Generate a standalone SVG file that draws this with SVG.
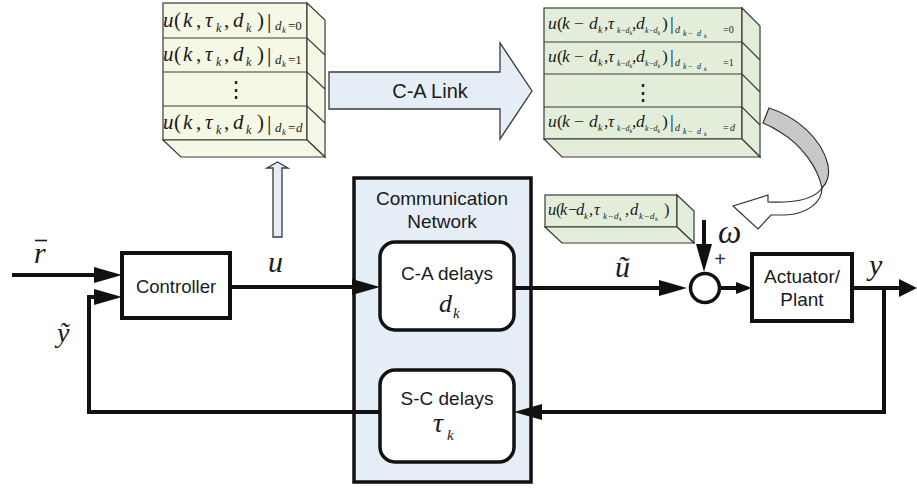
<svg xmlns="http://www.w3.org/2000/svg" width="917" height="489" viewBox="0 0 917 489">
  <style>
    .sans { font-family: "Liberation Sans", Arial, sans-serif; fill: #1a1a1a; }
    .mi { font-family: "Liberation Serif", "Times New Roman", serif; font-style: italic; fill: #1a1a1a; }
    .n { font-style: normal; }
    .box { fill: #ffffff; stroke: #111; stroke-width: 4; }
    .rbox { fill: #ffffff; stroke: #111; stroke-width: 3.5; }
    .wire { fill: none; stroke: #111; stroke-width: 4; }
    .stackA { fill: #f6f8e6; stroke: #3a3a3a; stroke-width: 1.2; }
    .stackB { fill: #e2eed9; stroke: #3a3a3a; stroke-width: 1.2; }
    .edge { fill: none; stroke: #3a3a3a; stroke-width: 1.2; }
    .big { fill: #e5edf7; stroke: #3a3a3a; stroke-width: 1.3; }
  </style>
  <defs>
    <marker id="ah" markerUnits="userSpaceOnUse" markerWidth="28" markerHeight="18" viewBox="0 0 28 18" refX="14" refY="9" orient="auto">
      <path d="M0,1 L28,9 L0,17 Z" fill="#111"/>
    </marker>
    <marker id="ahs" markerUnits="userSpaceOnUse" markerWidth="16" markerHeight="12" viewBox="0 0 16 12" refX="8" refY="6" orient="auto">
      <path d="M0,0 L16,6 L0,12 Z" fill="#111"/>
    </marker>
    <marker id="aho" markerUnits="userSpaceOnUse" markerWidth="18" markerHeight="18" viewBox="0 0 18 18" refX="9" refY="9" orient="auto">
      <path d="M0,0 L18,9 L0,18 Z" fill="#111"/>
    </marker>
  </defs>

  <rect width="917" height="489" fill="#ffffff"/>

  <!-- communication network container -->
  <g id="network">
    <rect x="354" y="178" width="177" height="304" fill="#e5edf7" stroke="#111" stroke-width="3.5"/>
    <text class="sans" x="442" y="205" font-size="19" text-anchor="middle">Communication</text>
    <text class="sans" x="442" y="228" font-size="19" text-anchor="middle">Network</text>
  </g>

  <!-- signal wires -->
  <g id="connectors">
    <line class="wire" x1="12" y1="275" x2="108" y2="275" marker-end="url(#ah)"/>
    <polyline class="wire" points="380,412 89,412 89,297 108,297" marker-end="url(#ah)"/>
    <line class="wire" x1="230" y1="287" x2="366" y2="287" marker-end="url(#ah)"/>
    <line class="wire" x1="514" y1="288" x2="673" y2="288" marker-end="url(#ah)"/>
    <line class="wire" x1="704" y1="220" x2="704" y2="258" marker-end="url(#ah)"/>
    <line class="wire" x1="720" y1="288" x2="744" y2="288" marker-end="url(#ahs)"/>
    <line class="wire" x1="852" y1="288" x2="908" y2="288" marker-end="url(#aho)"/>
    <polyline class="wire" points="884,288 884,412 528,412" marker-end="url(#ah)"/>
  </g>

  <!-- signal labels -->
  <g id="labels">
    <text class="mi" x="34" y="263" font-size="30">r</text>
    <line x1="35" y1="240.5" x2="47" y2="240.5" stroke="#1a1a1a" stroke-width="1.6"/>
    <text class="mi" x="268" y="272" font-size="30">u</text>
    <text class="mi" x="57" y="342" font-size="28">ỹ</text>
    <text class="mi" x="615" y="277" font-size="30">ũ</text>
    <text class="mi" x="869" y="275" font-size="30">y</text>
    <text class="mi" x="718" y="243" font-size="33">ω</text>
    <text x="720" y="266" font-size="20" text-anchor="middle" font-family="Liberation Sans, sans-serif" fill="#333">+</text>
  </g>

  <g id="controller">
    <rect class="box" x="122" y="253" width="108" height="65"/>
    <text class="sans" x="176" y="293" font-size="18.5" text-anchor="middle">Controller</text>
  </g>

  <g id="ca-delays">
    <rect class="rbox" x="380" y="242" width="134" height="88" rx="15"/>
    <text class="sans" x="447" y="280" font-size="19" text-anchor="middle">C-A delays</text>
    <text class="mi" font-size="26"><tspan x="439" y="312">d</tspan><tspan x="453" y="318" font-size="15">k</tspan></text>
  </g>

  <g id="sc-delays">
    <rect class="rbox" x="380" y="370" width="134" height="92" rx="15"/>
    <text class="sans" x="447" y="405" font-size="19" text-anchor="middle">S-C delays</text>
    <text class="mi" font-size="28"><tspan x="433" y="432">τ</tspan><tspan x="447" y="440" font-size="15">k</tspan></text>
  </g>

  <g id="sum">
    <circle cx="705" cy="288" r="14.5" fill="#ffffff" stroke="#111" stroke-width="3.5"/>
  </g>

  <g id="plant">
    <rect class="box" x="752" y="254" width="100" height="67"/>
    <text class="sans" x="802" y="283" font-size="19" text-anchor="middle">Actuator/</text>
    <text class="sans" x="802" y="306" font-size="19" text-anchor="middle">Plant</text>
  </g>

  <!-- controller-side buffer of candidate control inputs -->
  <g id="controller-buffer">
    <rect class="stackA" x="163" y="3" width="144" height="137"/>
    <polygon class="stackA" points="307,3 325,20 325,157 307,140"/>
    <polygon class="stackA" points="163,140 307,140 325,157 181,157"/>
    <path class="edge" d="M163,38 H307 L325,55 M163,72 H307 L325,89 M163,106 H307 L325,123"/>
    <g transform="translate(0,27)">
      <text class="mi" font-size="21"><tspan x="163" y="0">u</tspan><tspan class="n" x="174" y="0">(</tspan><tspan x="183" y="0">k</tspan><tspan class="n" x="196" y="0">,</tspan><tspan x="205" y="0">τ</tspan><tspan x="216" y="5" font-size="12">k</tspan><tspan class="n" x="224" y="0">,</tspan><tspan x="233" y="0">d</tspan><tspan x="246" y="5" font-size="12">k</tspan><tspan class="n" x="257" y="0">)</tspan><tspan class="n" x="267" y="1" font-size="22">|</tspan><tspan x="275" y="3" font-size="13">d</tspan><tspan x="282" y="6" font-size="9">k</tspan><tspan class="n" x="288" y="3" font-size="13">=0</tspan></text>
    </g>
    <g transform="translate(0,61)">
      <text class="mi" font-size="21"><tspan x="163" y="0">u</tspan><tspan class="n" x="174" y="0">(</tspan><tspan x="183" y="0">k</tspan><tspan class="n" x="196" y="0">,</tspan><tspan x="205" y="0">τ</tspan><tspan x="216" y="5" font-size="12">k</tspan><tspan class="n" x="224" y="0">,</tspan><tspan x="233" y="0">d</tspan><tspan x="246" y="5" font-size="12">k</tspan><tspan class="n" x="257" y="0">)</tspan><tspan class="n" x="267" y="1" font-size="22">|</tspan><tspan x="275" y="3" font-size="13">d</tspan><tspan x="282" y="6" font-size="9">k</tspan><tspan class="n" x="288" y="3" font-size="13">=1</tspan></text>
    </g>
    <text x="236" y="97" font-size="22" text-anchor="middle" font-family="DejaVu Serif, serif" fill="#1a1a1a">⋮</text>
    <g transform="translate(0,129)">
      <text class="mi" font-size="21"><tspan x="163" y="0">u</tspan><tspan class="n" x="174" y="0">(</tspan><tspan x="183" y="0">k</tspan><tspan class="n" x="196" y="0">,</tspan><tspan x="205" y="0">τ</tspan><tspan x="216" y="5" font-size="12">k</tspan><tspan class="n" x="224" y="0">,</tspan><tspan x="233" y="0">d</tspan><tspan x="246" y="5" font-size="12">k</tspan><tspan class="n" x="257" y="0">)</tspan><tspan class="n" x="267" y="1" font-size="22">|</tspan><tspan x="275" y="3" font-size="13">d</tspan><tspan x="282" y="6" font-size="9">k</tspan><tspan class="n" x="288" y="3" font-size="13">=</tspan><tspan x="296" y="3" font-size="13">d</tspan></text>
    </g>
  </g>

  <!-- upward transfer of the computed inputs -->
  <g id="buffer-feed">
    <polygon class="big" points="273,237 282,237 282,168 288,168 277.5,162 267,168 273,168"/>
  </g>

  <!-- controller-to-actuator link -->
  <g id="ca-link">
    <polygon class="big" points="329,72 500,72 500,43 532,91 500,139 500,109 329,109"/>
    <text class="sans" x="430" y="98" font-size="20" text-anchor="middle">C-A Link</text>
  </g>

  <!-- actuator-side buffer of received inputs -->
  <g id="actuator-buffer">
    <rect class="stackB" x="544" y="8" width="198" height="131"/>
    <polygon class="stackB" points="742,8 760,26 760,157 742,139"/>
    <polygon class="stackB" points="544,139 742,139 760,157 562,157"/>
    <path class="edge" d="M544,42 H742 L760,60 M544,74 H742 L760,92 M544,107 H742 L760,125"/>
    <g transform="translate(0,29)">
      <text class="mi" font-size="17.5"><tspan x="548" y="0">u</tspan><tspan class="n" x="557" y="0">(</tspan><tspan x="562" y="0">k</tspan><tspan class="n" x="574" y="0">−</tspan><tspan x="589" y="0">d</tspan><tspan x="598" y="4" font-size="10">k</tspan><tspan class="n" x="604" y="0">,</tspan><tspan x="608" y="0">τ</tspan><tspan x="617" y="4" font-size="8">k</tspan><tspan class="n" x="621" y="4" font-size="8">−</tspan><tspan x="625.5" y="4" font-size="8">d</tspan><tspan x="629.5" y="6" font-size="6">k</tspan><tspan class="n" x="632" y="0">,</tspan><tspan x="636" y="0">d</tspan><tspan x="645" y="4" font-size="8">k</tspan><tspan class="n" x="649" y="4" font-size="8">−</tspan><tspan x="653.5" y="4" font-size="8">d</tspan><tspan x="657.5" y="6" font-size="6">k</tspan><tspan class="n" x="662" y="0">)</tspan><tspan class="n" x="670" y="1" font-size="19">|</tspan><tspan x="675" y="4" font-size="10">d</tspan><tspan x="683" y="7" font-size="8">k</tspan><tspan class="n" x="688" y="7" font-size="8">−</tspan><tspan x="697" y="7" font-size="8">d</tspan><tspan x="704" y="9" font-size="6">k</tspan><tspan class="n" x="723" y="4" font-size="10">=0</tspan></text>
    </g>
    <g transform="translate(0,62)">
      <text class="mi" font-size="17.5"><tspan x="548" y="0">u</tspan><tspan class="n" x="557" y="0">(</tspan><tspan x="562" y="0">k</tspan><tspan class="n" x="574" y="0">−</tspan><tspan x="589" y="0">d</tspan><tspan x="598" y="4" font-size="10">k</tspan><tspan class="n" x="604" y="0">,</tspan><tspan x="608" y="0">τ</tspan><tspan x="617" y="4" font-size="8">k</tspan><tspan class="n" x="621" y="4" font-size="8">−</tspan><tspan x="625.5" y="4" font-size="8">d</tspan><tspan x="629.5" y="6" font-size="6">k</tspan><tspan class="n" x="632" y="0">,</tspan><tspan x="636" y="0">d</tspan><tspan x="645" y="4" font-size="8">k</tspan><tspan class="n" x="649" y="4" font-size="8">−</tspan><tspan x="653.5" y="4" font-size="8">d</tspan><tspan x="657.5" y="6" font-size="6">k</tspan><tspan class="n" x="662" y="0">)</tspan><tspan class="n" x="670" y="1" font-size="19">|</tspan><tspan x="675" y="4" font-size="10">d</tspan><tspan x="683" y="7" font-size="8">k</tspan><tspan class="n" x="688" y="7" font-size="8">−</tspan><tspan x="697" y="7" font-size="8">d</tspan><tspan x="704" y="9" font-size="6">k</tspan><tspan class="n" x="723" y="4" font-size="10">=1</tspan></text>
    </g>
    <text x="643" y="100" font-size="22" text-anchor="middle" font-family="DejaVu Serif, serif" fill="#1a1a1a">⋮</text>
    <g transform="translate(0,127)">
      <text class="mi" font-size="17.5"><tspan x="548" y="0">u</tspan><tspan class="n" x="557" y="0">(</tspan><tspan x="562" y="0">k</tspan><tspan class="n" x="574" y="0">−</tspan><tspan x="589" y="0">d</tspan><tspan x="598" y="4" font-size="10">k</tspan><tspan class="n" x="604" y="0">,</tspan><tspan x="608" y="0">τ</tspan><tspan x="617" y="4" font-size="8">k</tspan><tspan class="n" x="621" y="4" font-size="8">−</tspan><tspan x="625.5" y="4" font-size="8">d</tspan><tspan x="629.5" y="6" font-size="6">k</tspan><tspan class="n" x="632" y="0">,</tspan><tspan x="636" y="0">d</tspan><tspan x="645" y="4" font-size="8">k</tspan><tspan class="n" x="649" y="4" font-size="8">−</tspan><tspan x="653.5" y="4" font-size="8">d</tspan><tspan x="657.5" y="6" font-size="6">k</tspan><tspan class="n" x="662" y="0">)</tspan><tspan class="n" x="670" y="1" font-size="19">|</tspan><tspan x="675" y="4" font-size="10">d</tspan><tspan x="683" y="7" font-size="8">k</tspan><tspan class="n" x="688" y="7" font-size="8">−</tspan><tspan x="697" y="7" font-size="8">d</tspan><tspan x="704" y="9" font-size="6">k</tspan><tspan class="n" x="723" y="4" font-size="10">=</tspan><tspan x="730" y="4" font-size="10">d</tspan></text>
    </g>
  </g>

  <!-- curved arrow selecting the applied input -->
  <g id="select-arrow">
    <path d="M769,108 C795,116 822,138 828,165 C830,176 827,183 822,188 C818,168 802,145 780,132 C774,128 768,125 763,123 Z" fill="#c8c8c8" stroke="#333" stroke-width="1.2"/>
    <path d="M822,188 C822,202 808,214 785,215 L771,215 L758,229 L733,206 L768,195 L768,202 C792,203 814,200 822,188 Z" fill="#ffffff" stroke="#333" stroke-width="1.2"/>
  </g>

  <!-- input currently applied at the actuator -->
  <g id="applied-input">
    <rect class="stackB" x="545" y="195" width="132" height="32"/>
    <polygon class="stackB" points="677,195 694,211 694,243 677,227"/>
    <polygon class="stackB" points="545,227 677,227 694,243 562,243"/>
    <text class="mi" font-size="16.5"><tspan x="548" y="215">u</tspan><tspan class="n" x="556" y="215">(</tspan><tspan x="560" y="215">k</tspan><tspan class="n" x="568" y="215">−</tspan><tspan x="576" y="215">d</tspan><tspan x="584" y="219" font-size="9">k</tspan><tspan class="n" x="589" y="215">,</tspan><tspan x="594" y="215">τ</tspan><tspan x="603" y="219" font-size="9">k</tspan><tspan class="n" x="608" y="219" font-size="9">−</tspan><tspan x="614" y="219" font-size="9">d</tspan><tspan x="619" y="221" font-size="6">k</tspan><tspan class="n" x="625" y="215">,</tspan><tspan x="630" y="215">d</tspan><tspan x="639" y="219" font-size="9">k</tspan><tspan class="n" x="644" y="219" font-size="9">−</tspan><tspan x="650" y="219" font-size="9">d</tspan><tspan x="655" y="221" font-size="6">k</tspan><tspan class="n" x="664" y="215">)</tspan></text>
  </g>
</svg>
